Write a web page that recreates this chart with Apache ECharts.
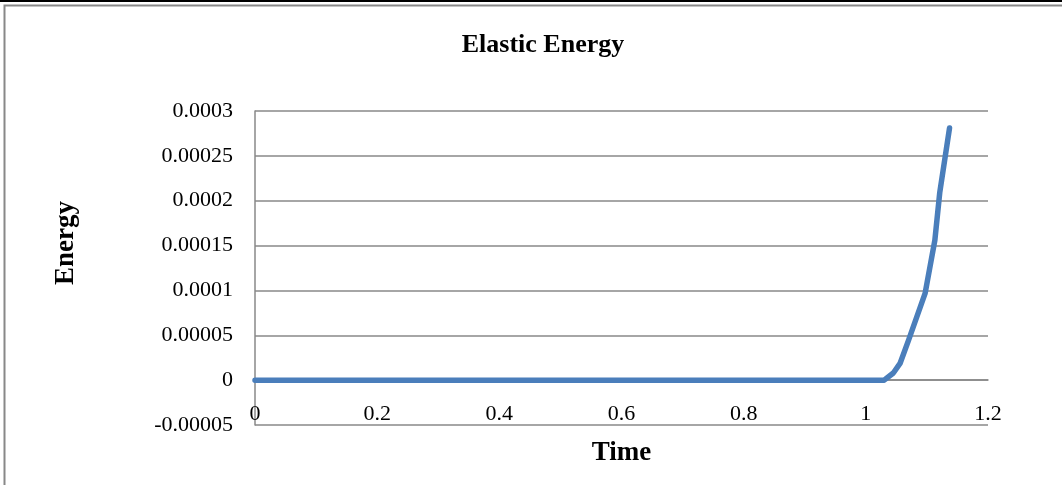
<!DOCTYPE html>
<html><head><meta charset="utf-8">
<script src="https://cdn.jsdelivr.net/npm/echarts@6/dist/echarts.min.js"></script>
<style>html,body{margin:0;padding:0;background:#fff}#c{width:1062px;height:485px}</style>
</head><body><div id="c"></div>
<script>
const timeValues = [0, 0.2, 0.4, 0.6, 0.8, 1.0, 1.03, 1.045, 1.056, 1.07, 1.097, 1.113, 1.121, 1.137];
const energyValues = [0, 0, 0, 0, 0, 0, 0, 0.000008, 0.0000186, 0.0000446, 0.0000967, 0.000156, 0.000209, 0.000281];
const yTickLabels = ['-0.00005','0','0.00005','0.0001','0.00015','0.0002','0.00025','0.0003'];
const xTickLabels = ['0','0.2','0.4','0.6','0.8','1','1.2'];
const titleText = 'Elastic Energy';
const xName = 'Time';
const yName = 'Energy';

const font = 'Liberation Serif';
const chart = echarts.init(document.getElementById('c'));
chart.setOption({
  animation: false,
  title: { text: titleText, left: 538, top: 27, textAlign: 'center',
    textStyle: { fontFamily: font, fontSize: 26, fontWeight: 'bold', color: '#000' } },
  grid: { left: 255, right: 74, top: 111, bottom: 60, containLabel: false },
  xAxis: {
    type: 'value', min: 0, max: 1.2, interval: 0.2,
    name: xName, nameLocation: 'middle', nameGap: 15,
    nameTextStyle: { fontFamily: font, fontSize: 27, fontWeight: 'bold', color: '#000' },
    axisLine: { show: true, lineStyle: { color: '#888', width: 1.5 } },
    axisTick: { show: false },
    splitLine: { show: false },
    axisLabel: { inside: true, margin: 0, fontFamily: font, fontSize: 22, color: '#000',
      formatter: v => { const i = Math.round(v / 0.2); return xTickLabels[i] !== undefined ? xTickLabels[i] : ''; } }
  },
  yAxis: {
    type: 'value', min: -0.00005, max: 0.0003, interval: 0.00005,
    axisLine: { show: true, lineStyle: { color: '#888', width: 1.5 } },
    axisTick: { show: false },
    splitLine: { show: true, lineStyle: { color: '#888', width: 1.5 } },
    axisLabel: { margin: 22, fontFamily: font, fontSize: 22, color: '#000',
      formatter: v => { const i = Math.round((v + 0.00005) / 0.00005); return yTickLabels[i] !== undefined ? yTickLabels[i] : ''; } }
  },
  graphic: [
    { type: 'rect', shape: { x: 0, y: 0, width: 1062, height: 2 }, style: { fill: '#000' }, silent: true },
    { type: 'rect', shape: { x: 4.5, y: 5.5, width: 1080, height: 500 }, style: { fill: 'none', stroke: '#888', lineWidth: 2 }, silent: true },
    { type: 'text', x: 66, y: 243, rotation: Math.PI / 2,
      style: { text: yName, fontFamily: font, fontSize: 27, fontWeight: 'bold', fill: '#000', align: 'center', verticalAlign: 'middle' } }
  ],
  series: [{
    type: 'line', showSymbol: false, symbol: 'none',
    data: timeValues.map((t, i) => [t, energyValues[i]]),
    lineStyle: { color: '#4a7ebb', width: 5.5, cap: 'round', join: 'round' },
    itemStyle: { color: '#4a7ebb' }
  }]
});
</script></body></html>
